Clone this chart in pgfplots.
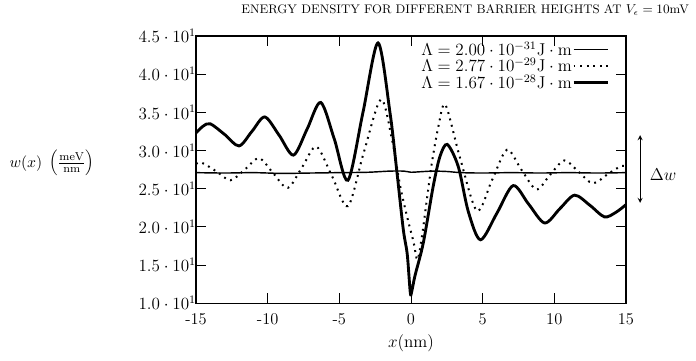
\documentclass[border=0pt]{standalone}
\usepackage{pgfplots}
\pgfplotsset{compat=1.18}
\begin{document}
\begin{tikzpicture}
\begin{axis}[
  scale only axis,
  width=301pt, height=187pt,
  xmin=-15, xmax=15, ymin=10, ymax=45,
  clip=false,
  axis line style={line width=0.8pt},
  tick style={line width=0.6pt, black},
  major tick length=7pt,
  tick align=inside,
  xtick={-15,-10,-5,0,5,10,15},
  xticklabels={-15,-10,-5,0,5,10,15},
  ytick={10,15,20,25,30,35,40,45},
  yticklabels={$1.0\cdot10^{1}$,$1.5\cdot10^{1}$,$2.0\cdot10^{1}$,$2.5\cdot10^{1}$,$3.0\cdot10^{1}$,$3.5\cdot10^{1}$,$4.0\cdot10^{1}$,$4.5\cdot10^{1}$},
  tick label style={font=\fontsize{11.5}{13}\selectfont},
  yticklabel style={font=\fontsize{12}{14}\selectfont, xshift=3.5pt},
  xticklabel style={yshift=-4pt},
  xlabel={$x(\mathrm{nm})$},
  label style={font=\fontsize{12}{14}\selectfont},
  xlabel style={yshift=0pt},
  legend style={draw=none, fill=none, at={(0.972,0.992)}, anchor=north east, row sep=0pt,
     font=\fontsize{11.5}{13}\selectfont, nodes={inner sep=0.3pt}},
  legend cell align=right,
  legend plot pos=right,
  legend image code/.code={\draw[#1] (0cm,0cm) -- (24pt,0cm);},
]
\addplot[black, line width=1pt, smooth] coordinates {
(-15,27.1) (-13,27.05) (-11,27.1) (-9,27.0) (-7,27.05) (-5,27.1) (-3,27.15) (-1.5,27.3) (-0.5,27.3) (0,27.15) (0.5,27.2) (1.5,27.3) (2.5,27.25) (3.5,27.1) (5,27.05) (7,27.1) (9,27.05) (11,27.1) (13,27.05) (15,27.1)
};
\addlegendentry{$\Lambda = 2.00\cdot10^{-31}\mathrm{J}\cdot\mathrm{m}$}
\addplot[black, line width=1.4pt, dash pattern=on 1.3pt off 3.3pt, smooth] coordinates {
(-15,28.25) (-14.6,28.4) (-13.6,27.3) (-12.6,26.1) (-11.6,27.5) (-10.6,29.0) (-9.6,27.0) (-8.6,25.1) (-7.6,27.8) (-6.6,30.5) (-5.5,26.6) (-4.4,22.7) (-3.3,29.7) (-2.1,36.7) (-1.32,31.4) (-0.75,25.3) (-0.28,21.4) (0.18,18.0) (0.45,15.7) (0.77,18.8) (1.11,23.6) (1.46,28.4) (1.92,33.2) (2.4,36.0) (3.4,29.2) (4.6,22.1) (5.65,26.1) (6.7,30.1) (7.7,27.5) (8.75,24.9) (9.7,26.8) (10.7,28.7) (11.7,27.2) (12.7,25.7) (13.8,27.0) (14.7,28.0) (15,27.9)
};
\addlegendentry{$\Lambda = 2.77\cdot10^{-29}\mathrm{J}\cdot\mathrm{m}$}
\addplot[black, line width=2pt, smooth] coordinates {
(-15,32.3) (-14.5,33.2) (-14.0,33.5) (-13.0,32.1) (-12.0,30.6) (-11.1,32.5) (-10.2,34.4) (-9.2,32.0) (-8.2,29.4) (-7.25,32.8) (-6.3,36.3) (-5.35,31.5) (-4.4,26.1) (-3.35,35.0) (-2.3,44.1) (-1.46,34.9) (-1.0,27.5) (-0.54,19.7) (-0.26,16.4) (-0.05,11.4) (0.05,11.5) (0.28,13.6) (0.86,17.9) (1.55,25.3) (2.02,29.2) (2.53,30.8) (3.3,27.9) (4.0,22.0) (4.85,18.3) (6.0,21.8) (7.13,25.4) (8.2,23.0) (9.33,20.5) (10.4,22.4) (11.42,24.15) (12.5,22.8) (13.5,21.3) (14.3,21.9) (15,22.9)
};
\addlegendentry{$\Lambda = 1.67\cdot10^{-28}\mathrm{J}\cdot\mathrm{m}$}
\node[font=\fontsize{11}{13}\selectfont] at (rel axis cs:-0.335,0.524) {$w(x)\;\left(\frac{\mathrm{meV}}{\mathrm{nm}}\right)$};
\draw[<->, >=stealth, line width=0.6pt] (rel axis cs:1.033,0.629) -- (rel axis cs:1.033,0.375);
\node[anchor=west, font=\fontsize{12}{14}\selectfont] at (rel axis cs:1.044,0.48) {$\Delta w$};
\node[font=\fontsize{8.7}{10}\selectfont] at (rel axis cs:0.626,1.097) {ENERGY DENSITY FOR DIFFERENT BARRIER HEIGHTS AT $V_\epsilon = 10$mV};
\coordinate (bbA) at (rel axis cs:-0.456,1.135);
\coordinate (bbB) at (rel axis cs:1.163,-0.2135);
\end{axis}
\pgfresetboundingbox
\path[use as bounding box] (bbA) rectangle (bbB);
\end{tikzpicture}
\end{document}
